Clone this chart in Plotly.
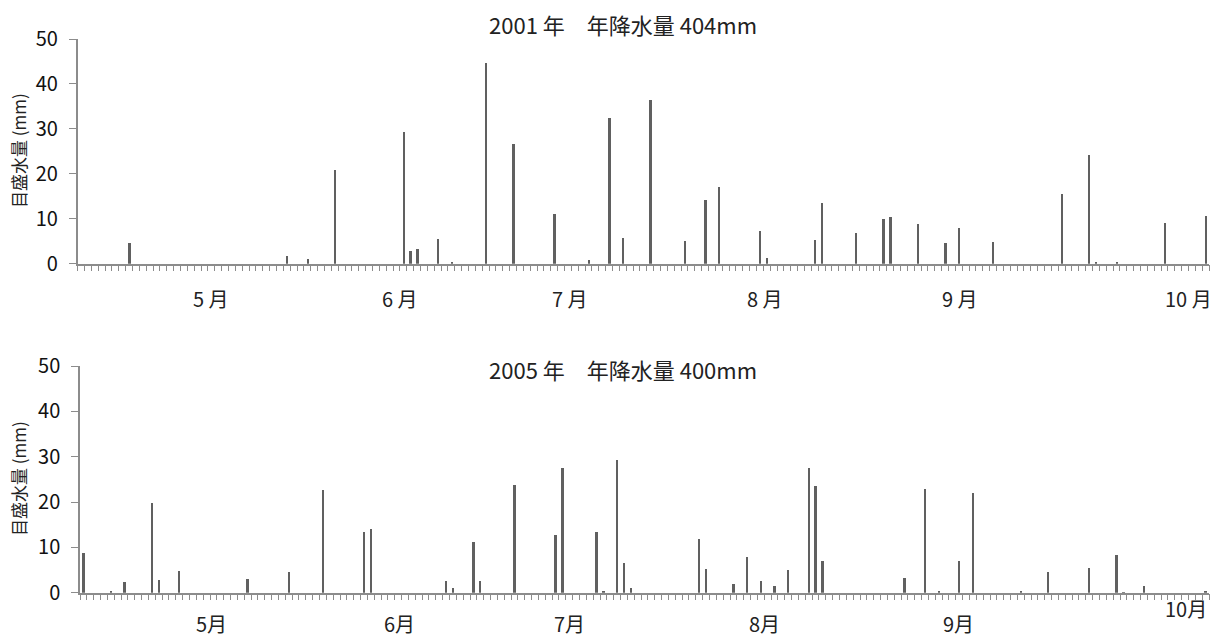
import plotly.graph_objects as go

# Season length: daily categories from mid-April to end of September
N_DAYS = 165

# 2001 season: day number within the season and daily rainfall (mm)
days_2001 = [7, 30, 33, 37, 47, 48, 49, 52, 54, 59, 63, 69, 74, 77, 79, 83, 88, 91, 93, 99,
             100, 107, 108, 113, 117, 118, 122, 126, 128, 133, 143, 147, 148, 151, 158, 164]
rain_2001 = [4.5, 1.8, 1.0, 20.8, 29.2, 2.8, 3.3, 5.6, 0.3, 44.7, 26.6, 11.1, 0.8, 32.5, 5.8, 36.4, 5.1, 14.2, 17.0, 7.3,
             1.2, 5.3, 13.4, 6.8, 9.9, 10.4, 8.9, 4.5, 7.9, 4.8, 15.5, 24.1, 0.2, 0.2, 9.1, 10.6]

# 2005 season
days_2005 = [0, 4, 6, 10, 11, 14, 24, 30, 35, 41, 42, 53, 54, 57, 58, 63, 69, 70, 75, 76,
             78, 79, 80, 90, 91, 95, 97, 99, 101, 103, 106, 107, 108, 120, 123, 125, 128, 130, 137, 141,
             147, 151, 152, 155, 164]
rain_2005 = [8.8, 0.4, 2.3, 19.8, 2.7, 4.8, 3.0, 4.5, 22.6, 13.4, 14.0, 2.5, 1.0, 11.2, 2.5, 23.8, 12.7, 27.4, 13.4, 0.2,
             29.2, 6.6, 1.0, 11.9, 5.3, 1.9, 7.9, 2.5, 1.5, 5.1, 27.4, 23.6, 7.1, 3.2, 22.9, 0.4, 7.1, 22.1, 0.3, 4.5,
             5.5, 8.3, 0.1, 1.5, 0.2]

titles = ["2001 年　年降水量 404mm", "2005 年　年降水量 400mm"]
y_title = "目盛水量 (mm)"
month_labels_2001 = ["5 月", "6 月", "7 月", "8 月", "9 月", "10 月"]
month_labels_2005 = ["5月", "6月", "7月", "8月", "9月", "10月"]
month_pos = [19.0, 46.5, 71.3, 99.8, 128.2, 161.5]

W, H = 1217, 637
FONT = "Noto Sans CJK JP"
BAR = "#606060"
AXIS = "#8c8c8c"

fig = go.Figure()
fig.add_trace(go.Bar(x=days_2001, y=rain_2001, width=0.34, marker=dict(color=BAR, line=dict(width=0)),
                     xaxis="x", yaxis="y", showlegend=False))
fig.add_trace(go.Bar(x=days_2005, y=rain_2005, width=0.34, marker=dict(color=BAR, line=dict(width=0)),
                     xaxis="x2", yaxis="y2", showlegend=False))

xcommon = dict(range=[-0.5, N_DAYS - 0.5], tick0=-0.5, dtick=1, ticks="outside", ticklen=6,
               tickcolor=AXIS, tickwidth=1, showticklabels=False, showgrid=False, zeroline=False,
               showline=True, linecolor=AXIS, linewidth=1.5, fixedrange=True)
ycommon = dict(range=[0, 50], dtick=10, ticks="outside", ticklen=7, tickcolor=AXIS, tickwidth=1,
               showgrid=False, zeroline=False, showline=True, linecolor=AXIS, linewidth=1.5,
               tickfont=dict(family=FONT, size=20, color="#111111"), ticklabelstandoff=7,
               fixedrange=True)

fig.update_layout(
    width=W, height=H, margin=dict(l=0, r=0, t=0, b=0, autoexpand=False),
    paper_bgcolor="white", plot_bgcolor="white",
    bargap=0,
    xaxis=dict(domain=[77.7 / W, 1209 / W], anchor="y", **xcommon),
    yaxis=dict(domain=[1 - 263.7 / H, 1 - 39 / H], anchor="x", **ycommon),
    xaxis2=dict(domain=[80 / W, 1209 / W], anchor="y2", **xcommon),
    yaxis2=dict(domain=[1 - 592.7 / H, 1 - 366 / H], anchor="x2", **ycommon),
)

ann = []
# chart titles
for t, yp in zip(titles, [24, 369]):
    ann.append(dict(text=t, x=623.5 / W, y=1 - yp / H, xref="paper", yref="paper",
                    showarrow=False, xanchor="center", yanchor="middle",
                    font=dict(family=FONT, size=22, color="#222222")))
# y-axis titles
for yp in [151, 479]:
    ann.append(dict(text=y_title, x=18 / W, y=1 - yp / H, xref="paper", yref="paper",
                    showarrow=False, textangle=-90, xanchor="center", yanchor="middle",
                    font=dict(family=FONT, size=17, color="#222222")))
# month labels under each axis (vertical offset in axis-domain units)
plot_h_top = 263.7 - 39
plot_h_bot = 592.7 - 366
for lab, xp in zip(month_labels_2001, month_pos):
    ann.append(dict(text=lab, x=xp, y=-35 / plot_h_top, xref="x", yref="y domain", showarrow=False,
                    xanchor="center", yanchor="middle",
                    font=dict(family=FONT, size=20, color="#222222")))
for i, (lab, xp) in enumerate(zip(month_labels_2005, month_pos)):
    dy = 16 if i == len(month_labels_2005) - 1 else 31
    ann.append(dict(text=lab, x=xp - 0.3, y=-dy / plot_h_bot, xref="x2", yref="y2 domain", showarrow=False,
                    xanchor="center", yanchor="middle",
                    font=dict(family=FONT, size=20, color="#222222")))
fig.update_layout(annotations=ann)

fig.write_html("out.html")
